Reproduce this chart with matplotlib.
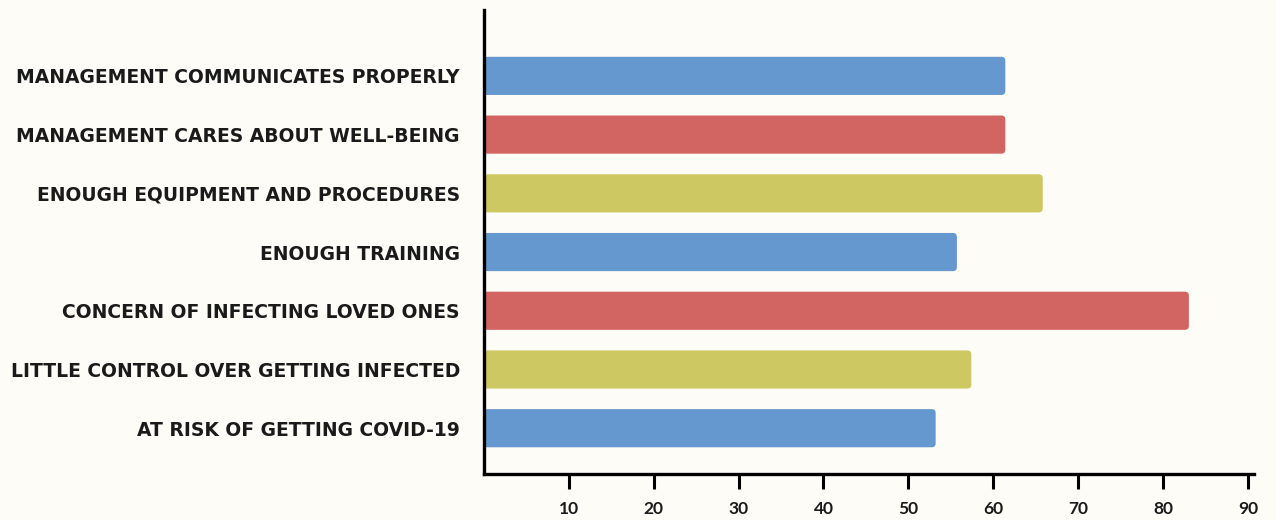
import matplotlib.pyplot as plt
from matplotlib.patches import FancyBboxPatch

# data
labels = ['MANAGEMENT COMMUNICATES PROPERLY', 'MANAGEMENT CARES ABOUT WELL-BEING',
          'ENOUGH EQUIPMENT AND PROCEDURES', 'ENOUGH TRAINING',
          'CONCERN OF INFECTING LOVED ONES', 'LITTLE CONTROL OVER GETTING INFECTED',
          'AT RISK OF GETTING COVID-19']
values = [61.4, 61.4, 65.8, 55.7, 83.0, 57.4, 53.2]
colors = ['#6598ce', '#d26562', '#cec863', '#6598ce', '#d26562', '#cec863', '#6598ce']
xticks = [10, 20, 30, 40, 50, 60, 70, 80, 90]

bg = '#fdfcf7'
fig = plt.figure(figsize=(12.76, 5.2), dpi=100, facecolor=bg)
ax = fig.add_axes([0.379, 0.088, 0.604, 0.893], facecolor=bg)

ypos = list(range(len(labels)))
bars = ax.barh(ypos, values, height=0.65, color=colors)

# swap plain bars for rounded ones
xpx = 8.49   # px per x unit
ypx = 58.7   # px per y unit
for b in bars:
    x, y = b.get_x(), b.get_y()
    w, h = b.get_width(), b.get_height()
    p = FancyBboxPatch((x, y), w, h,
                       boxstyle=f'round,pad=0,rounding_size={4 / xpx}',
                       mutation_aspect=xpx / ypx,
                       facecolor=b.get_facecolor(), edgecolor='none')
    b.set_visible(False)
    ax.add_patch(p)

ax.set_xlim(0, 90.7)
ax.set_ylim(6.784, -1.124)

ax.set_yticks(ypos)
ax.set_yticklabels(labels, fontsize=13.5, fontweight='bold', fontname='DejaVu Sans', color='#1a1a1a',
                   va='center_baseline')
ax.tick_params(axis='y', length=0, pad=17)

ax.set_xticks(xticks)
ax.set_xticklabels([str(t) for t in xticks], fontsize=12.5, fontweight='bold', fontname='Lato', color='#1a1a1a')
ax.tick_params(axis='x', length=11, width=2.2, pad=8, direction='out', color='black')

for s in ['top', 'right']:
    ax.spines[s].set_visible(False)
for s in ['left', 'bottom']:
    ax.spines[s].set_linewidth(2.4)
    ax.spines[s].set_color('black')

fig.savefig('out.png', dpi=100, facecolor=bg)
